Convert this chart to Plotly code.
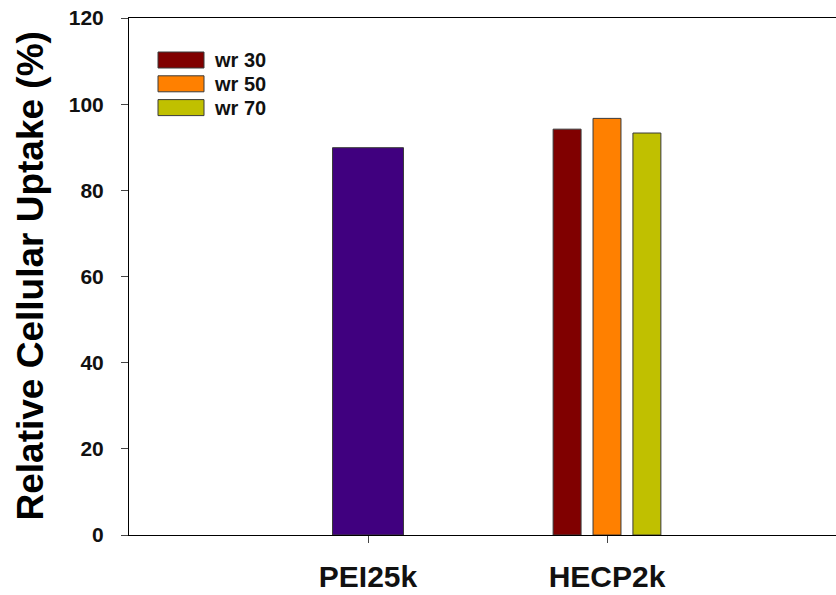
import plotly.graph_objects as go

# ---- data ----
categories = ["PEI25k", "HECP2k"]
pei_name = "PEI25k"
pei_values = [89.9]
hecp_series = ["wr 30", "wr 50", "wr 70"]
hecp_values = [94.2, 96.7, 93.3]
y_ticks = [0, 20, 40, 60, 80, 100, 120]

# ---- style ----
pei_color = "#40007F"
hecp_colors = ["#800000", "#FF8000", "#C0C000"]
edge = "#3a3a3a"
FONT = "Liberation Sans, Arial, sans-serif"

W, H = 836, 595
ML, MR, MT, MB = 129, 0, 18, 60
plot_w = W - ML - MR
plot_h = H - MT - MB
cat_px = 239.0
x_span = plot_w / cat_px

cat_pos = [i + 1 for i in range(len(categories))]

fig = go.Figure()
fig.add_trace(go.Bar(
    x=[cat_pos[0]], y=pei_values, name=pei_name, width=0.297,
    marker=dict(color=pei_color, line=dict(color=edge, width=1)),
    showlegend=False,
))
offsets = [-0.167, 0.0, 0.167]
for name, val, col, off in zip(hecp_series, hecp_values, hecp_colors, offsets):
    fig.add_trace(go.Bar(
        x=[cat_pos[1] + off], y=[val], name=name, width=0.117,
        marker=dict(color=col, line=dict(color=edge, width=1)),
        showlegend=False,
    ))

# pixel -> paper conversions
def px_to_paper_x(px):
    return (px - ML) / plot_w

def px_to_paper_y(py):
    return (MT + plot_h - py) / plot_h

leg_x0, leg_x1, leg_text_x = 158, 204, 212
row_top0, row_h, row_step = 52, 16, 23.8
for i, (name, col) in enumerate(zip(hecp_series, hecp_colors)):
    top = row_top0 + i * row_step
    fig.add_shape(type="rect", xref="paper", yref="paper",
                  x0=px_to_paper_x(leg_x0), x1=px_to_paper_x(leg_x1),
                  y0=px_to_paper_y(top + row_h), y1=px_to_paper_y(top),
                  fillcolor=col, line=dict(color=edge, width=1))
    fig.add_annotation(xref="paper", yref="paper",
                       x=px_to_paper_x(leg_text_x), y=px_to_paper_y(top + row_h / 2),
                       text=name, showarrow=False, xanchor="left", yanchor="middle",
                       font=dict(family=FONT, size=20, color="#111", weight="bold"))

# y title
fig.add_annotation(xref="paper", yref="paper",
                   x=px_to_paper_x(30), y=0.5, text="Relative Cellular Uptake (%)",
                   textangle=-90, showarrow=False, xanchor="center", yanchor="middle",
                   font=dict(family=FONT, size=37, color="black", weight="bold"))

fig.update_layout(
    width=W, height=H,
    margin=dict(l=ML, r=MR, t=MT, b=MB, autoexpand=False),
    paper_bgcolor="white", plot_bgcolor="white",
    barmode="overlay",
    showlegend=False,
    font=dict(family=FONT, color="black"),
    xaxis=dict(
        range=[0, x_span], tickmode="array", tickvals=cat_pos, ticktext=categories,
        showline=True, linecolor="black", linewidth=1, mirror=True,
        ticks="outside", ticklen=7, tickcolor="#444", tickwidth=1,
        showgrid=False, zeroline=False, ticklabelstandoff=8,
        tickfont=dict(family=FONT, size=30, color="#111", weight="bold"),
    ),
    yaxis=dict(
        range=[0, 120], tickmode="array", tickvals=y_ticks,
        showline=True, linecolor="black", linewidth=1,
        ticks="outside", ticklen=7, tickcolor="#444", tickwidth=1,
        showgrid=False, zeroline=False, ticklabelstandoff=13,
        ticklabeloverflow="allow",
        tickfont=dict(family=FONT, size=21, color="#111", weight="bold"),
    ),
)

fig.write_html("out.html", config={"displayModeBar": False},
               post_script="document.body.style.margin='0';")
